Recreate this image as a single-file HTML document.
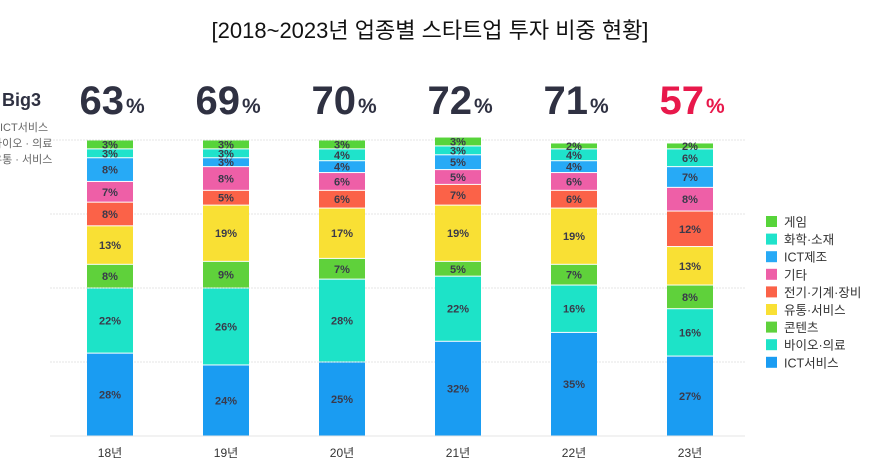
<!DOCTYPE html>
<html><head><meta charset="utf-8"><style>
body{margin:0;background:#fff;font-family:"Liberation Sans","Noto Sans CJK KR",sans-serif;}
#wrap{position:relative;width:896px;height:462px;overflow:hidden;}
</style></head><body>
<div id="wrap">
<svg id="svg" width="896" height="462"></svg>
</div>
<script>
const years=["18년","19년","20년","21년","22년","23년"];
const big3=[63,69,70,72,71,57];
const seriesNames=["ICT서비스","바이오·의료","콘텐츠","유통·서비스","전기·기계·장비","기타","ICT제조","화학·소재","게임"];
const sICT=[28,24,25,32,35,27];
const sBio=[22,26,28,22,16,16];
const sContent=[8,9,7,5,7,8];
const sRetail=[13,19,17,19,19,13];
const sElec=[8,5,6,7,6,12];
const sEtc=[7,8,6,5,6,8];
const sICTm=[8,3,4,5,4,7];
const sChem=[3,3,4,3,4,6];
const sGame=[3,3,3,3,2,2];
const allSeries=[sICT,sBio,sContent,sRetail,sElec,sEtc,sICTm,sChem,sGame];
const colors=["#1a9cf2","#1de3c8","#5fd13b","#f9e034","#fb6248","#ee5fa7","#27aaf6","#1fe3cb","#57d43a"];
const NS="http://www.w3.org/2000/svg";
const svg=document.getElementById('svg');
function mk(t,a){const e=document.createElementNS(NS,t);for(const k in a)e.setAttribute(k,a[k]);svg.appendChild(e);return e;}
const y0=436,pp=2.96;
function yS(v){return y0-v*pp;}
function xC(i){return 110+i*116;}
let t=mk('text',{x:430,y:38,'text-anchor':'middle','font-size':22,fill:'#111'});t.textContent="[2018~2023년 업종별 스타트업 투자 비중 현황]";


[0,25,50,75,100].forEach(g=>{const l=mk('line',{x1:50,x2:745,y1:yS(g),y2:yS(g),stroke:'#e4e4e4','stroke-width':1,'stroke-dasharray':g?'2,1':''});

});
t=mk('text',{x:2,y:106,'font-size':18,'font-weight':'bold',fill:'#2f3142'});t.textContent="Big3";


["ICT서비스","바이오 · 의료","유통 · 서비스"].forEach((s,i)=>{const e=mk('text',{x:i?-8:0,y:131+i*16,'font-size':11,fill:'#666'});e.textContent=s;

});
years.forEach((yr,i)=>{
  const cx=xC(i);let acc=0;
  allSeries.forEach((s,k)=>{const v=s[i];const top=yS(acc+v),bot=yS(acc);
    const r=mk('rect',{x:cx-23,y:top+0.5,width:46,height:Math.max(bot-top-1,0.5),fill:colors[k]});
    
    
    const lb=mk('text',{x:cx,y:(top+bot)/2+4,'text-anchor':'middle','font-size':11,'font-weight':'bold',fill:'#3a3a4a'});lb.textContent=v+"%";
    
    
    acc+=v;});
  const xl=mk('text',{x:cx,y:457,'text-anchor':'middle','font-size':12,fill:'#333'});xl.textContent=yr;
  
  
  const bg=mk('text',{x:cx+14,y:114,'text-anchor':'end','font-size':40,'font-weight':'bold',fill:i==5?'#e8184b':'#2f3142'});bg.textContent=big3[i];
  
  
  const pc=mk('text',{x:cx+16,y:113,'font-size':21,'font-weight':'bold',fill:i==5?'#e8184b':'#2f3142'});pc.textContent="%";
  
  
});
for(let k=8;k>=0;k--){const row=8-k;const y=222+row*17.6;
  const r=mk('rect',{x:766,y:y-6,width:11,height:11,fill:colors[k]});
  
  
  const e=mk('text',{x:784,y:y+4.5,'font-size':12.5,fill:'#333'});e.textContent=seriesNames[k];
  
  }
</script>
</body></html>
